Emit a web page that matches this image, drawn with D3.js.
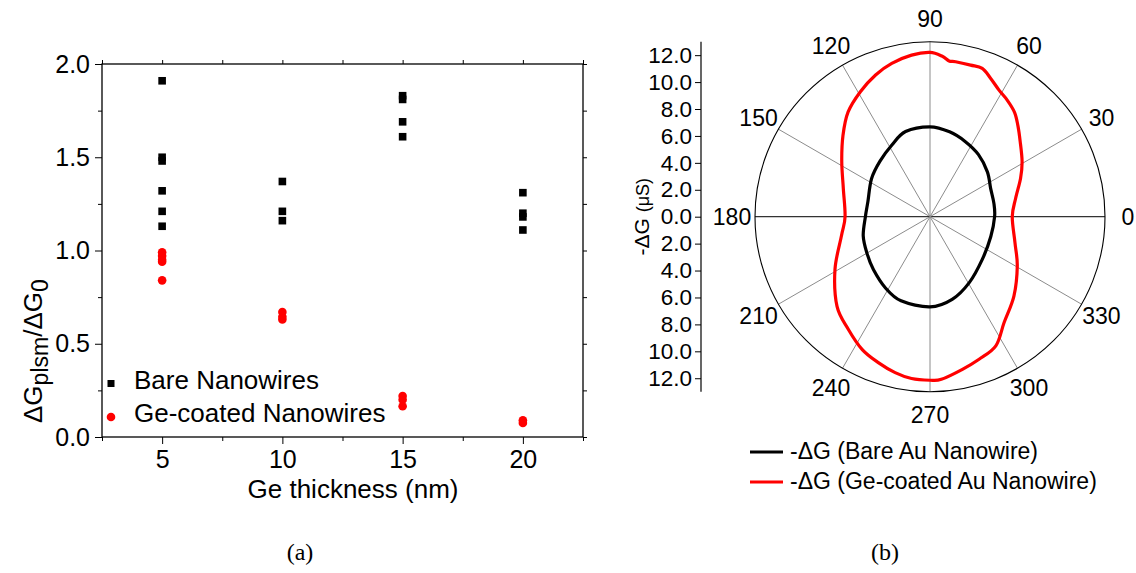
<!DOCTYPE html>
<html>
<head>
<meta charset="utf-8">
<script src="https://cdn.jsdelivr.net/npm/d3@7"></script>
<style>
  body { margin: 0; background: #fff; }
  svg { display: block; font-family: "Liberation Sans", Arial, sans-serif; }
  .tick line { stroke: #000; }
  .domain { display: none; }
</style>
</head>
<body>
<svg id="chart"></svg>
<script>
const width = 1136;
const height = 573;

// (a) data : Ge thickness vs ratio
const thickness = [5, 10, 15, 20];
const bareValues = [
  [1.91, 1.50, 1.48, 1.32, 1.21, 1.13],
  [1.37, 1.21, 1.16],
  [1.83, 1.81, 1.69, 1.61],
  [1.31, 1.20, 1.18, 1.11]
];
const geValues = [
  [0.99, 0.97, 0.95, 0.94, 0.84],
  [0.67, 0.645, 0.63],
  [0.22, 0.20, 0.165],
  [0.09, 0.075]
];
const xTicks = [5, 10, 15, 20];
const xMinor = [2.5, 7.5, 12.5, 17.5, 22.5];
const yTicks = [0, 0.5, 1.0, 1.5, 2.0];
const yMinor = [0.25, 0.75, 1.25, 1.75];

// (b) data : polar, [angle deg, -dG uS]
const bareAngles = [0, 12, 25, 38, 52, 65, 77, 90, 106, 118, 132, 147, 166, 180, 196, 210, 223, 238, 251, 270, 285, 301, 321, 342];
const bareRadii = [4.8, 4.85, 4.97, 5.41, 5.85, 6.17, 6.47, 6.68, 6.58, 6.03, 5.55, 5.18, 4.75, 4.8, 5.16, 5.41, 5.75, 6.24, 6.61, 6.7, 6.36, 5.69, 5.01, 4.75];
const geAngles = [0, 12, 23, 31, 40, 46, 51, 56.5, 61.4, 66.3, 70.6, 75, 80.6, 83, 85.6, 90, 96.5, 104, 111, 119, 128, 137, 148, 162, 180, 192, 209, 224, 234, 243, 250.5, 257.4, 263.5, 270, 274, 282, 289, 297, 305, 316.6, 330.5, 343];
const geRadii = [6.11, 6.5, 7.31, 7.98, 8.74, 9.4, 9.98, 10.39, 10.71, 11.22, 11.68, 11.66, 11.67, 11.65, 11.95, 12.2, 12.08, 11.74, 11.28, 10.64, 9.88, 8.84, 7.73, 6.77, 6.31, 6.72, 8.07, 9.6, 10.33, 11.08, 11.5, 11.87, 12.1, 12.15, 12.11, 11.59, 11.2, 10.77, 9.6, 8.58, 7.45, 6.6];
const rTicks = [0, 2, 4, 6, 8, 10, 12];
const angleTicks = [0, 30, 60, 90, 120, 150, 180, 210, 240, 270, 300, 330];

const svg = d3.select("#chart")
  .attr("width", width)
  .attr("height", height);

// ---------- (a) ----------
const x = d3.scaleLinear().domain([2.5, 22.5]).range([102, 583]);
const y = d3.scaleLinear().domain([0, 2]).range([437, 64]);

const left = svg.append("g");

// frame
left.append("rect")
  .attr("x", x.range()[0]).attr("y", y.range()[1])
  .attr("width", x.range()[1] - x.range()[0])
  .attr("height", y.range()[0] - y.range()[1])
  .attr("fill", "none").attr("stroke", "#000").attr("stroke-width", 1.3);

const fmt = d3.format(".1f");

left.append("g")
  .attr("transform", `translate(0,${y(0)})`)
  .call(d3.axisBottom(x).tickValues(xTicks).tickSize(7).tickPadding(6))
  .call(g => g.selectAll("text").attr("font-size", 25).attr("fill", "#000"));
left.append("g")
  .attr("transform", `translate(0,${y(0)})`)
  .call(d3.axisBottom(x).tickValues(xMinor).tickSize(4).tickFormat(""));
left.append("g")
  .attr("transform", `translate(0,${y(2)})`)
  .call(d3.axisTop(x).tickValues(xTicks.concat(xMinor)).tickSize(4).tickFormat(""));

left.append("g")
  .attr("transform", `translate(${x(2.5)},0)`)
  .call(d3.axisLeft(y).tickValues(yTicks).tickSize(7).tickPadding(5).tickFormat(fmt))
  .call(g => g.selectAll("text").attr("font-size", 25).attr("fill", "#000"));
left.append("g")
  .attr("transform", `translate(${x(2.5)},0)`)
  .call(d3.axisLeft(y).tickValues(yMinor).tickSize(4).tickFormat(""));
left.append("g")
  .attr("transform", `translate(${x(22.5)},0)`)
  .call(d3.axisRight(y).tickValues(yTicks.concat(yMinor)).tickSize(4).tickFormat(""));

// points
const barePts = thickness.flatMap((t, i) => bareValues[i].map(v => [t, v]));
const gePts = thickness.flatMap((t, i) => geValues[i].map(v => [t, v]));

left.selectAll(".bare")
  .data(barePts)
  .enter()
  .append("rect")
  .attr("class", "bare")
  .attr("x", d => x(d[0]) - 3.8)
  .attr("y", d => y(d[1]) - 3.8)
  .attr("width", 7.6)
  .attr("height", 7.6)
  .attr("fill", "#000");

left.selectAll(".ge")
  .data(gePts)
  .enter()
  .append("circle")
  .attr("class", "ge")
  .attr("cx", d => x(d[0]))
  .attr("cy", d => y(d[1]))
  .attr("r", 4.3)
  .attr("fill", "#ff0000");

// legend
left.append("rect").attr("x", 107.5).attr("y", 380).attr("width", 7).attr("height", 7).attr("fill", "#000");
left.append("text").attr("x", 134).attr("y", 389).attr("font-size", 26).text("Bare Nanowires");
left.append("circle").attr("cx", 111).attr("cy", 417).attr("r", 4.3).attr("fill", "#ff0000");
left.append("text").attr("x", 134).attr("y", 422).attr("font-size", 26).text("Ge-coated Nanowires");

// axis titles
left.append("text")
  .attr("x", 353).attr("y", 498)
  .attr("text-anchor", "middle").attr("font-size", 26)
  .text("Ge thickness (nm)");

const yTitle = left.append("text")
  .attr("transform", "translate(42,423) rotate(-90)")
  .attr("font-size", 26);
yTitle.append("tspan").text("ΔG");
yTitle.append("tspan").attr("font-size", 23).attr("dy", 6).text("plsm");
yTitle.append("tspan").attr("dy", -6).text("/ΔG");
yTitle.append("tspan").attr("font-size", 23).attr("dy", 6).text("0");

// ---------- (b) ----------
const cx = 930, cy = 216.7, R = 175;
const r = d3.scaleLinear().domain([0, 13]).range([0, R]);
const polar = svg.append("g").attr("transform", `translate(${cx},${cy})`);

// spokes
polar.selectAll(".spoke")
  .data(angleTicks)
  .enter()
  .append("line")
  .attr("x2", d => R * Math.cos(d * Math.PI / 180))
  .attr("y2", d => -R * Math.sin(d * Math.PI / 180))
  .attr("stroke", d => (d % 180 === 0) ? "#333" : "#8c8c8c")
  .attr("stroke-width", d => (d % 180 === 0) ? 1.2 : 1);

polar.append("circle")
  .attr("r", R).attr("fill", "none").attr("stroke", "#000").attr("stroke-width", 1.1);

// angle labels
polar.selectAll(".alab")
  .data(angleTicks)
  .enter()
  .append("text")
  .attr("x", d => 198 * Math.cos(d * Math.PI / 180))
  .attr("y", d => -198 * Math.sin(d * Math.PI / 180))
  .attr("text-anchor", "middle")
  .attr("dy", "0.36em")
  .attr("font-size", 23)
  .text(d => d);

// curves
const line = d3.lineRadial()
  .angle(d => (90 - d[0]) * Math.PI / 180)
  .radius(d => r(d[1]))
  .curve(d3.curveCardinalClosed);

polar.append("path")
  .datum(geAngles.map((a, i) => [a, geRadii[i]]))
  .attr("d", line)
  .attr("fill", "none").attr("stroke", "#ff0000").attr("stroke-width", 3.2);

polar.append("path")
  .datum(bareAngles.map((a, i) => [a, bareRadii[i]]))
  .attr("d", line)
  .attr("fill", "none").attr("stroke", "#000").attr("stroke-width", 3.2);

// radial axis on the left
const rUp = d3.scaleLinear().domain([0, 13]).range([cy, cy - R]);
const rDown = d3.scaleLinear().domain([0, 13]).range([cy, cy + R]);
const axX = 701;

svg.append("line")
  .attr("x1", axX).attr("x2", axX)
  .attr("y1", cy - R).attr("y2", cy + R)
  .attr("stroke", "#000").attr("stroke-width", 1.2);

svg.append("g")
  .attr("transform", `translate(${axX},0)`)
  .call(d3.axisLeft(rUp).tickValues(rTicks).tickSize(6).tickPadding(3).tickFormat(fmt))
  .call(g => g.selectAll("text").attr("font-size", 22.5).attr("fill", "#000"));
svg.append("g")
  .attr("transform", `translate(${axX},0)`)
  .call(d3.axisLeft(rDown).tickValues(rTicks.slice(1)).tickSize(6).tickPadding(3).tickFormat(fmt))
  .call(g => g.selectAll("text").attr("font-size", 22.5).attr("fill", "#000"));

const rTitle = svg.append("text")
  .attr("transform", `translate(649,${cy}) rotate(-90)`)
  .attr("text-anchor", "middle").attr("font-size", 21);
rTitle.append("tspan").text("-ΔG ");
rTitle.append("tspan").attr("font-size", 18).text("(μS)");

// legend
const legend = [
  { label: "-ΔG (Bare Au Nanowire)", color: "#000", y: 452 },
  { label: "-ΔG (Ge-coated Au Nanowire)", color: "#ff0000", y: 482 }
];
legend.forEach(d => {
  svg.append("line")
    .attr("x1", 750).attr("x2", 783)
    .attr("y1", d.y).attr("y2", d.y)
    .attr("stroke", d.color).attr("stroke-width", 3);
  svg.append("text")
    .attr("x", 790).attr("y", d.y + 6.5)
    .attr("font-size", 23)
    .text(d.label);
});

// panel labels
svg.append("text").attr("x", 300).attr("y", 560)
  .attr("text-anchor", "middle").attr("font-family", "'Liberation Serif', serif").attr("font-size", 24)
  .text("(a)");
svg.append("text").attr("x", 885).attr("y", 560)
  .attr("text-anchor", "middle").attr("font-family", "'Liberation Serif', serif").attr("font-size", 24)
  .text("(b)");
</script>
</body>
</html>
